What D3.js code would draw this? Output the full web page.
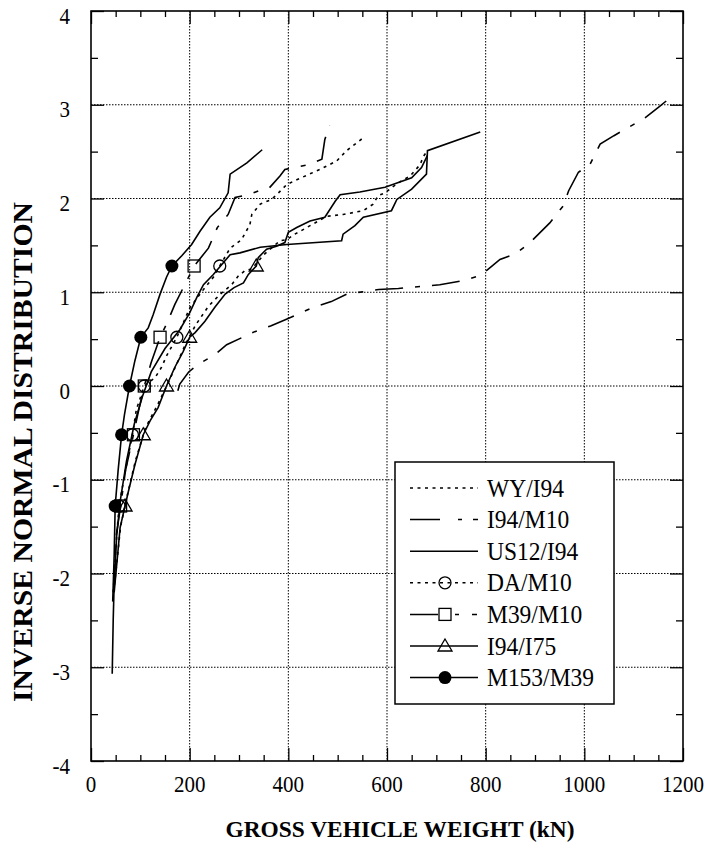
<!DOCTYPE html>
<html>
<head>
<meta charset="utf-8">
<script src="https://cdn.jsdelivr.net/npm/d3@7"></script>
<style>
  body { margin: 0; background: #fff; }
  svg text { font-family: "Liberation Serif", "Times New Roman", serif; fill: #000; }
</style>
</head>
<body>
<svg id="chart" width="711" height="844"></svg>
<script>
const xTicks = [0, 200, 400, 600, 800, 1000, 1200];
const yTicks = [-4, -3, -2, -1, 0, 1, 2, 3, 4];
const xMinor = [50, 100, 150, 250, 300, 350, 450, 500, 550, 650, 700, 750, 850, 900, 950, 1050, 1100, 1150];
const yMinor = [-3.5, -2.5, -1.5, -0.5, 0.5, 1.5, 2.5, 3.5];

const seriesNames = ["WY/I94", "I94/M10", "US12/I94", "DA/M10", "M39/M10", "I94/I75", "M153/M39"];

// [gross vehicle weight kN, inverse normal]
const wyI94 = [[46,-2.2],[60,-1.5],[72,-1.2],[90,-0.8],[110,-0.45],[135,-0.2],[158,0.05],[175,0.25],[192,0.45],[212,0.65],[238,0.85],[262,0.98],[285,1.08],[298,1.17],[312,1.23],[326,1.25],[350,1.4],[383,1.55],[397,1.56],[413,1.62],[424,1.65],[437,1.69],[478,1.81],[511,1.83],[552,1.87],[572,1.94],[582,2.03],[596,2.06],[613,2.13],[630,2.19],[647,2.24],[667,2.36],[674,2.45],[682,2.51]];
const i94M10 = [[176,-0.05],[180,0.02],[198,0.15],[217,0.23],[250,0.33],[275,0.44],[332,0.58],[364,0.64],[395,0.71],[451,0.84],[487,0.9],[518,0.98],[583,1.03],[623,1.04],[707,1.08],[751,1.12],[790,1.18],[829,1.35],[860,1.41],[886,1.51],[930,1.74],[957,1.92],[968,2.08],[988,2.28],[1011,2.36],[1032,2.58],[1060,2.67],[1123,2.86],[1152,2.98],[1166,3.04]];
const us12I94 = [[43,-3.07],[45,-2.5],[47,-2.1],[52,-1.6],[60,-1.2],[72,-0.8],[88,-0.4],[105,-0.1],[122,0.15],[150,0.4],[180,0.6],[200,0.78],[215,0.95],[228,1.08],[248,1.19],[282,1.4],[302,1.42],[343,1.48],[397,1.51],[508,1.55],[511,1.62],[535,1.71],[552,1.8],[609,1.87],[620,1.99],[650,2.1],[680,2.26],[682,2.51],[789,2.71]];
const daM10 = [[45,-2.2],[52,-1.6],[57,-1.28],[68,-0.95],[84,-0.52],[92,-0.25],[108,0],[130,0.09],[143,0.2],[153,0.32],[174,0.52],[201,0.84],[231,1.05],[248,1.16],[261,1.28],[282,1.47],[305,1.56],[322,1.72],[326,1.83],[343,1.94],[366,1.99],[380,2.06],[397,2.15],[417,2.2],[464,2.31],[498,2.4],[518,2.51],[555,2.66]];
const m39M10 = [[46,-2.2],[51,-1.6],[60,-1.28],[70,-0.9],[86,-0.52],[97,-0.25],[108,0],[122,0.25],[140,0.52],[153,0.66],[170,0.87],[190,1.08],[209,1.28],[238,1.47],[256,1.69],[278,1.83],[292,2.01],[319,2.04],[349,2.1],[361,2.11],[383,2.24],[393,2.31],[440,2.36],[468,2.42],[474,2.63],[484,2.78]];
const i94I75 = [[47,-2.2],[59,-1.51],[69,-1.28],[76,-1.12],[89,-0.84],[106,-0.52],[120,-0.37],[136,-0.23],[153,0],[170,0.2],[187,0.37],[200,0.52],[211,0.57],[231,0.69],[251,0.84],[272,0.98],[290,1.05],[309,1.1],[319,1.19],[335,1.28],[339,1.37],[356,1.46],[376,1.49],[393,1.53],[400,1.64],[417,1.69],[444,1.76],[474,1.8],[495,1.97],[505,2.04],[545,2.07],[596,2.12],[650,2.22],[670,2.33],[682,2.46]];
const m153M39 = [[44,-2.3],[47,-1.8],[49,-1.28],[55,-0.9],[62,-0.52],[68,-0.3],[78,0],[89,0.27],[101,0.52],[116,0.62],[126,0.76],[140,0.98],[153,1.16],[164,1.28],[184,1.39],[204,1.51],[221,1.65],[241,1.8],[261,1.9],[278,2.06],[282,2.26],[316,2.38],[347,2.52]];

// markers sit at the 10/30/50/70/90 percent points
const markZ = [-1.28, -0.52, 0, 0.52, 1.28];
const daMarkX = [57, 84, 108, 174, 261];
const m39MarkX = [60, 86, 108, 140, 209];
const i75MarkX = [69, 106, 153, 200, 335];
const m153MarkX = [49, 62, 78, 101, 164];

const svg = d3.select("#chart");
const plot = { left: 91, right: 683, top: 11, bottom: 761 };
const STRETCH = 1.1; // the scanned type is a little taller than Times

const x = d3.scaleLinear().domain([0, 1200]).range([plot.left, plot.right]);
const y = d3.scaleLinear().domain([-4, 4]).range([plot.bottom, plot.top]);

const DOT = "3,4.5";
const DASH = "28,12,5,12";

const series = [
  { name: seriesNames[0], data: wyI94, dash: DOT, legendDash: DOT },
  { name: seriesNames[1], data: i94M10, dash: DASH, legendDash: "30,18,4,11,5,20" },
  { name: seriesNames[2], data: us12I94, dash: null, legendDash: null },
  { name: seriesNames[3], data: daM10, dash: DOT, legendDash: DOT, marker: "circle", markX: daMarkX },
  { name: seriesNames[4], data: m39M10, dash: DASH, legendDash: "28,17,4,13,5,20", marker: "square", markX: m39MarkX },
  { name: seriesNames[5], data: i94I75, dash: null, legendDash: null, marker: "triangle", markX: i75MarkX },
  { name: seriesNames[6], data: m153M39, dash: null, legendDash: null, marker: "dot", markX: m153MarkX },
];

// grid
const grid = svg.append("g").attr("stroke", "#000").attr("stroke-width", 1).attr("stroke-dasharray", "1.5,1.5");
grid.selectAll(".gx").data(xTicks.slice(1, -1)).join("line")
  .attr("x1", (d) => x(d)).attr("x2", (d) => x(d))
  .attr("y1", plot.top).attr("y2", plot.bottom);
grid.selectAll(".gy").data(yTicks.slice(1, -1)).join("line")
  .attr("y1", (d) => y(d)).attr("y2", (d) => y(d))
  .attr("x1", plot.left).attr("x2", plot.right);

// axes, ticks inward on all sides
function tickAxis(axisFn, scale, values, size, transform) {
  svg.append("g")
    .attr("transform", transform)
    .call(axisFn(scale).tickValues(values).tickSizeInner(-size).tickSizeOuter(0).tickFormat(""))
    .call((g) => g.select(".domain").remove())
    .call((g) => g.selectAll("line").attr("stroke", "#000").attr("stroke-width", 1.3));
}
tickAxis(d3.axisBottom, x, xTicks, 13, `translate(0,${plot.bottom})`);
tickAxis(d3.axisBottom, x, xMinor, 6, `translate(0,${plot.bottom})`);
tickAxis(d3.axisTop, x, xTicks, 13, `translate(0,${plot.top})`);
tickAxis(d3.axisTop, x, xMinor, 6, `translate(0,${plot.top})`);
tickAxis(d3.axisLeft, y, yTicks, 13, `translate(${plot.left},0)`);
tickAxis(d3.axisLeft, y, yMinor, 7, `translate(${plot.left},0)`);
tickAxis(d3.axisRight, y, yTicks, 13, `translate(${plot.right},0)`);
tickAxis(d3.axisRight, y, yMinor, 7, `translate(${plot.right},0)`);

svg.append("rect")
  .attr("x", plot.left).attr("y", plot.top)
  .attr("width", plot.right - plot.left).attr("height", plot.bottom - plot.top)
  .attr("fill", "none").attr("stroke", "#000").attr("stroke-width", 1.6);

// tick labels
svg.append("g").selectAll("text").data(xTicks).join("text")
  .attr("transform", (d) => `translate(${x(d)},${plot.bottom + 31}) scale(1,${STRETCH})`)
  .attr("text-anchor", "middle").attr("font-size", 21)
  .text((d) => d);
svg.append("g").selectAll("text").data(yTicks).join("text")
  .attr("transform", (d) => `translate(${plot.left - 21},${y(d) + 12.5}) scale(1,${STRETCH})`)
  .attr("text-anchor", "end").attr("font-size", 21)
  .text((d) => d);

// axis titles
svg.append("text")
  .attr("x", 400).attr("y", 837)
  .attr("text-anchor", "middle").attr("font-size", 23.4).attr("font-weight", "bold")
  .text("GROSS VEHICLE WEIGHT (kN)");
svg.append("text")
  .attr("transform", `translate(32,452) scale(1,${STRETCH}) rotate(-90)`)
  .attr("text-anchor", "middle").attr("font-size", 27).attr("font-weight", "bold")
  .text("INVERSE NORMAL DISTRIBUTION");

// curves
const line = d3.line().x((d) => x(d[0])).y((d) => y(d[1]));
const curves = svg.append("g").attr("fill", "none").attr("stroke", "#000").attr("stroke-width", 1.6);
curves.selectAll("path").data(series).join("path")
  .attr("d", (s) => line(s.data))
  .attr("stroke-dasharray", (s) => s.dash);

function drawMarker(g, type, cx, cy) {
  if (type === "circle") {
    g.append("circle").attr("cx", cx).attr("cy", cy).attr("r", 6)
      .attr("fill", "none").attr("stroke", "#000").attr("stroke-width", 1.3);
  } else if (type === "dot") {
    g.append("circle").attr("cx", cx).attr("cy", cy).attr("r", 6.5).attr("fill", "#000");
  } else if (type === "square") {
    g.append("rect").attr("x", cx - 6).attr("y", cy - 6).attr("width", 12).attr("height", 12)
      .attr("fill", "none").attr("stroke", "#000").attr("stroke-width", 1.3);
  } else if (type === "triangle") {
    g.append("path").attr("d", `M${cx},${cy - 7}L${cx + 7},${cy + 5}L${cx - 7},${cy + 5}Z`)
      .attr("fill", "none").attr("stroke", "#000").attr("stroke-width", 1.3);
  }
}

const marks = svg.append("g");
series.filter((s) => s.marker).forEach((s) => {
  s.markX.forEach((mx, i) => drawMarker(marks, s.marker, x(mx), y(markZ[i])));
});

// legend
const legend = svg.append("g");
legend.append("rect")
  .attr("x", 395).attr("y", 462).attr("width", 219).attr("height", 242)
  .attr("fill", "#fff").attr("stroke", "#000").attr("stroke-width", 1.5);

series.forEach((s, i) => {
  const cy = 488 + i * 31.6;
  legend.append("line")
    .attr("x1", 410).attr("x2", 478).attr("y1", cy).attr("y2", cy)
    .attr("stroke", "#000").attr("stroke-width", 1.5)
    .attr("stroke-dasharray", s.legendDash);
  if (s.marker) drawMarker(legend, s.marker, 445, cy);
  legend.append("text")
    .attr("transform", `translate(487,${cy + 8.5}) scale(1,${STRETCH})`)
    .attr("font-size", 23.5)
    .text(s.name);
});
</script>
</body>
</html>
